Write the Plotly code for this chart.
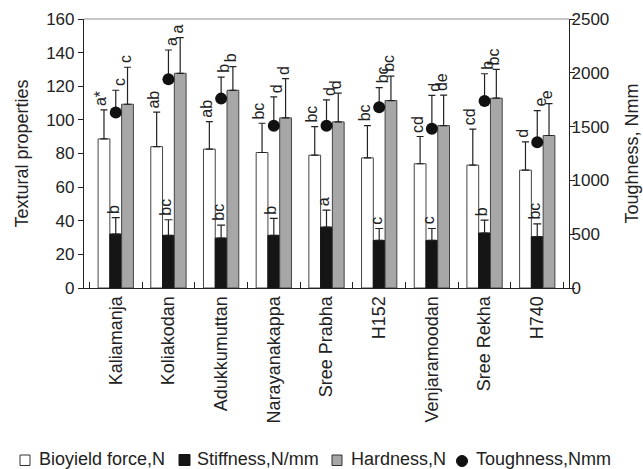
import plotly.graph_objects as go

categories = ["Kaliamanja", "Koliakodan", "Adukkumuttan", "Narayanakappa", "Sree Prabha",
              "H152", "Venjaramoodan", "Sree Rekha", "H740"]
bioyield = [88.7, 84.1, 82.6, 80.6, 79.0, 77.4, 73.9, 73.1, 70.1]
bioyield_err = [17.3, 20.5, 16.4, 17.4, 17.0, 19.2, 16.2, 21.4, 16.8]
stiffness = [32.1, 31.3, 29.7, 31.3, 36.2, 28.3, 28.3, 32.7, 30.5]
stiffness_err = [9.7, 9.3, 7.7, 10.1, 10.1, 7.1, 7.1, 7.7, 7.7]
hardness = [109.3, 127.7, 117.6, 101.2, 98.8, 111.5, 96.6, 112.9, 90.7]
hardness_err = [22.0, 21.2, 14.1, 23.3, 17.1, 14.5, 18.1, 17.1, 19.0]
toughness = [1630, 1940, 1760, 1507, 1507, 1680, 1481, 1738, 1355]
toughness_err = [208, 272, 199, 269, 241, 182, 310, 253, 293]

bioyield_letters = ["a*", "ab", "ab", "bc", "bc", "bc", "cd", "cd", "d"]
stiffness_letters = ["b", "bc", "bc", "b", "a", "c", "c", "b", "bc"]
hardness_letters = ["c", "a", "b", "d", "d", "bc", "de", "bc", "e"]
toughness_letters = ["c", "a", "b", "d", "d", "bc", "d", "b", "e"]

left_ticks = [0, 20, 40, 60, 80, 100, 120, 140, 160]
right_ticks = [0, 500, 1000, 1500, 2000, 2500]

legend_names = ["Bioyield force,N", "Stiffness,N/mm", "Hardness,N", "Toughness,Nmm"]

FONT = "Liberation Sans, Arial, sans-serif"
INK = "#222222"
W, H = 643, 469
ML, MR, MT, MB = 84, 74, 19, 181
PW, PH = W - ML - MR, H - MT - MB


def px(x):
    return (x - ML) / PW


def py(y):
    return (H - MB - y) / PH


def err(arr, color, width=3.5):
    return dict(type="data", array=arr, arrayminus=[0] * len(arr), symmetric=False,
                color=color, thickness=1.2, width=width)


fig = go.Figure()
fig.add_trace(go.Bar(x=categories, y=bioyield, name=legend_names[0], yaxis="y",
                     marker=dict(color="white", line=dict(color="#444444", width=1)),
                     error_y=err(bioyield_err, INK)))
fig.add_trace(go.Bar(x=categories, y=stiffness, name=legend_names[1], yaxis="y",
                     marker=dict(color="#151515", line=dict(color="#151515", width=1)),
                     error_y=err(stiffness_err, INK, 4)))
fig.add_trace(go.Bar(x=categories, y=hardness, name=legend_names[2], yaxis="y",
                     marker=dict(color="#a7a7a7", line=dict(color="#444444", width=1)),
                     error_y=err(hardness_err, INK)))
fig.add_trace(go.Scatter(x=categories, y=toughness, name=legend_names[3], yaxis="y2",
                         mode="markers", marker=dict(color="#111111", size=12),
                         error_y=err(toughness_err, INK)))

annotations = []
groups = [
    (bioyield, bioyield_err, bioyield_letters, -15, "y"),
    (stiffness, stiffness_err, stiffness_letters, -3, "y"),
    (hardness, hardness_err, hardness_letters, 9, "y"),
    (toughness, toughness_err, toughness_letters, 3, "y2"),
]
for vals, errs, letters, xs, yref in groups:
    for c, v, e, t in zip(categories, vals, errs, letters):
        annotations.append(dict(x=c, y=v + e, xref="x", yref=yref, text=t, showarrow=False,
                                textangle=-90, xanchor="center", yanchor="bottom",
                                xshift=xs, yshift=3, borderpad=0,
                                font=dict(family=FONT, size=16, color=INK)))

# legend (drawn as shapes + text)
legend_y = 459.5
legend_text_x = [37, 195, 349, 474]
for name, lx in zip(legend_names, legend_text_x):
    annotations.append(dict(x=px(lx), y=py(legend_y), xref="paper", yref="paper", text=name,
                            showarrow=False, xanchor="left", yanchor="middle",
                            font=dict(family=FONT, size=18, color=INK)))

shapes = [
    dict(type="line", xref="paper", yref="paper", x0=0, x1=1, y0=1, y1=1,
         line=dict(color="#b5b5b5", width=1.5)),
    dict(type="rect", xref="paper", yref="paper", x0=px(20), x1=px(30), y0=py(455), y1=py(465.5),
         fillcolor="white", line=dict(color="#333333", width=1)),
    dict(type="rect", xref="paper", yref="paper", x0=px(179), x1=px(190), y0=py(454.5), y1=py(465.5),
         fillcolor="#151515", line=dict(color="#151515", width=1)),
    dict(type="rect", xref="paper", yref="paper", x0=px(332), x1=px(342), y0=py(455), y1=py(465.5),
         fillcolor="#a7a7a7", line=dict(color="#333333", width=1)),
    dict(type="circle", xref="paper", yref="paper", x0=px(456.5), x1=px(467.5), y0=py(455.5), y1=py(466.5),
         fillcolor="#111111", line=dict(color="#111111", width=1)),
]

fig.update_layout(
    width=W, height=H,
    margin=dict(l=ML, r=MR, t=MT, b=MB, autoexpand=False),
    paper_bgcolor="white", plot_bgcolor="white",
    barmode="group", bargap=0.33, bargroupgap=0,
    showlegend=False,
    font=dict(family=FONT, size=17, color=INK),
    xaxis=dict(type="category", showline=True, linecolor=INK, linewidth=1.2,
               ticks="inside", tickson="boundaries", ticklen=6, tickcolor=INK,
               tickangle=-90, tickfont=dict(size=18), showgrid=False, zeroline=False),
    yaxis=dict(range=[0, 160], tickvals=left_ticks, showline=True, linecolor=INK, linewidth=1.2,
               ticks="outside", ticklen=5, tickcolor=INK, showgrid=False, zeroline=False,
               tickfont=dict(size=17),
               title=dict(text="Textural properties", font=dict(size=18), standoff=12)),
    yaxis2=dict(range=[0, 2500], tickvals=right_ticks, overlaying="y", side="right",
                showline=True, linecolor=INK, linewidth=1.2, ticks="outside", ticklen=5,
                tickcolor=INK, showgrid=False, zeroline=False, tickfont=dict(size=17),
                ticklabelstandoff=-7,
                title=dict(text="Toughness, Nmm", font=dict(size=18), standoff=17)),
    annotations=annotations,
    shapes=shapes,
)

fig.write_html("out.html", config={"displayModeBar": False},
               post_script="document.body.style.margin='0';document.body.style.overflow='hidden';")
